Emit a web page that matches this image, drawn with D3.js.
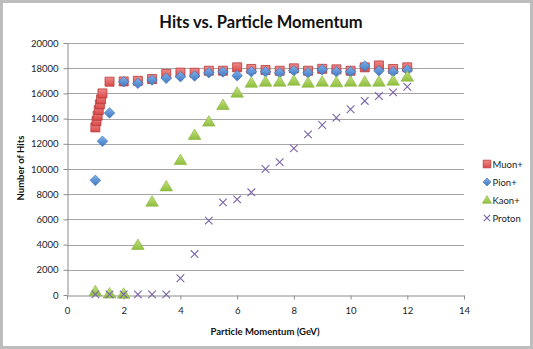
<!DOCTYPE html>
<html><head><meta charset="utf-8">
<script src="https://cdn.jsdelivr.net/npm/d3@7"></script>
<style>body{margin:0;background:#fff;}svg{display:block;font-family:Lato,"Open Sans",sans-serif;}</style>
</head><body><svg id="c" width="533" height="349"></svg>
<script>
const muonX = [1.0,1.04,1.08,1.12,1.16,1.2,1.25,1.5,2.0,2.5,3.0,3.5,4.0,4.5,5.0,5.5,6.0,6.5,7.0,7.5,8.0,8.5,9.0,9.5,10.0,10.5,11.0,11.5,12.0];
const muonY = [13300,13800,14230,14680,15130,15530,16000,16930,16950,17000,17140,17540,17650,17640,17800,17800,18070,17940,17860,17800,17990,17800,17950,17910,17800,18070,18220,17940,18070];
const pionX = [1.0,1.25,1.5,2.0,2.5,3.0,3.5,4.0,4.5,5.0,5.5,6.0,6.5,7.0,7.5,8.0,8.5,9.0,9.5,10.0,10.5,11.0,11.5,12.0];
const pionY = [9100,12200,14450,16930,16800,17060,17200,17330,17380,17640,17700,17410,17720,17720,17640,17800,17640,17880,17720,17720,18170,17800,17720,17860];
const kaonX = [1.0,1.5,2.0,2.5,3.0,3.5,4.0,4.5,5.0,5.5,6.0,6.5,7.0,7.5,8.0,8.5,9.0,9.5,10.0,10.5,11.0,11.5,12.0];
const kaonY = [300,120,100,3970,7410,8620,10710,12700,13760,15080,16060,16850,16930,16930,17010,16850,16930,16880,16930,16930,16930,17010,17330];
const protonX = [1.0,1.5,2.0,2.5,3.0,3.5,4.0,4.5,5.0,5.5,6.0,6.5,7.0,7.5,8.0,8.5,9.0,9.5,10.0,10.5,11.0,11.5,12.0];
const protonY = [50,50,50,50,50,50,1330,3250,5900,7350,7590,8150,10000,10550,11640,12750,13490,14070,14740,15400,15790,16080,16530];
const xTicks = [0,2,4,6,8,10,12,14];
const yTicks = [0,2000,4000,6000,8000,10000,12000,14000,16000,18000,20000];
const seriesNames = ["Muon+","Pion+","Kaon+","Proton"];

const svg = d3.select("#c");
svg.append("rect").attr("x",1.5).attr("y",1.5).attr("width",530).attr("height",346)
  .attr("fill","#fff").attr("stroke","#bdbdbd").attr("stroke-width",3);

const x = d3.scaleLinear().domain([0,14]).range([67,464]);
const y = d3.scaleLinear().domain([0,20000]).range([295,43]);

svg.append("g").selectAll("line").data(yTicks.slice(1)).join("line")
  .attr("x1",x(0)).attr("x2",x(14)).attr("y1",d=>Math.round(y(d))+0.5).attr("y2",d=>Math.round(y(d))+0.5)
  .attr("stroke","#a6a6a6").attr("stroke-width",1);

const xa = svg.append("g").attr("transform",`translate(0,${Math.round(y(0))+0.5})`)
  .call(d3.axisBottom(x).tickValues(xTicks).tickSize(4).tickSizeOuter(0).tickPadding(8).tickFormat(d3.format("d")));
const ya = svg.append("g").attr("transform",`translate(${Math.round(x(0))+0.5},0)`)
  .call(d3.axisLeft(y).tickValues(yTicks).tickSize(4).tickSizeOuter(0).tickPadding(5).tickFormat(d3.format("d")));
[xa,ya].forEach(a=>{
  a.select(".domain").attr("stroke","#8c8c8c");
  a.selectAll(".tick line").attr("stroke","#8c8c8c");
  a.selectAll("text").attr("font-size",9.5).attr("fill","#222").attr("font-family","Lato, sans-serif");
});

svg.append("text").attr("x",261).attr("y",28).attr("text-anchor","middle")
  .attr("font-size",16.5).attr("font-weight","bold").attr("fill","#111").text("Hits vs. Particle Momentum");
svg.append("text").attr("x",265).attr("y",335).attr("text-anchor","middle")
  .attr("font-size",9.5).attr("font-weight","bold").attr("fill","#111").text("Particle Momentum (GeV)");
svg.append("text").attr("transform","translate(24,168) rotate(-90)").attr("text-anchor","middle")
  .attr("font-size",9.5).attr("font-weight","bold").attr("fill","#111").text("Number of Hits");

const defs = svg.append("defs");
function grad(id,c1,c2){
  const g = defs.append("linearGradient").attr("id",id).attr("x1",0).attr("y1",0).attr("x2",0).attr("y2",1);
  g.append("stop").attr("offset","0%").attr("stop-color",c1);
  g.append("stop").attr("offset","100%").attr("stop-color",c2);
}
grad("gr","#f08a8a","#d94848");
grad("gb","#7fb0e8","#3f79c4");
grad("gg","#c2e07e","#8fbf3e");

const diamond = r => `M0,${-r}L${r},0L0,${r}L${-r},0Z`;
const triangle = r => `M0,${-r}L${r*1.05},${r*0.75}L${-r*1.05},${r*0.75}Z`;
const cross = r => `M${-r},${-r}L${r},${r}M${-r},${r}L${r},${-r}`;
const square = r => `M${-r},${-r}H${r}V${r}H${-r}Z`;

function drawSeries(xs,ys,path,fill,stroke,sw){
  svg.append("g").selectAll("path").data(xs.map((v,i)=>[v,ys[i]])).join("path")
    .attr("transform",d=>`translate(${x(d[0])},${y(d[1])})`)
    .attr("d",path).attr("fill",fill).attr("stroke",stroke).attr("stroke-width",sw);
}
drawSeries(muonX,muonY,square(4.5),"url(#gr)","#b83a3a",0.8);
drawSeries(pionX,pionY,diamond(5.3),"url(#gb)","#3a6db0",0.6);
drawSeries(kaonX,kaonY,triangle(6),"url(#gg)","#86b23a",0.6);
drawSeries(protonX,protonY,cross(3.8),"none","#7a64a8",1.1);

const legY = [164,182,200,218];
const legSyms = [
  [square(3.8),"url(#gr)","#b83a3a",0.8],
  [diamond(4),"url(#gb)","#3a6db0",0.6],
  [triangle(4.4),"url(#gg)","#86b23a",0.6],
  [cross(3.2),"none","#7a64a8",1.1]
];
const lg = svg.append("g").selectAll("g").data(seriesNames).join("g")
  .attr("transform",(d,i)=>`translate(0,${legY[i]})`);
lg.append("path").attr("transform","translate(487,0)")
  .attr("d",(d,i)=>legSyms[i][0]).attr("fill",(d,i)=>legSyms[i][1]).attr("stroke",(d,i)=>legSyms[i][2]).attr("stroke-width",(d,i)=>legSyms[i][3]);
lg.append("text").attr("x",492.5).attr("y",3.5).attr("font-size",9.5).attr("fill","#222").text(d=>d);
</script></body></html>
